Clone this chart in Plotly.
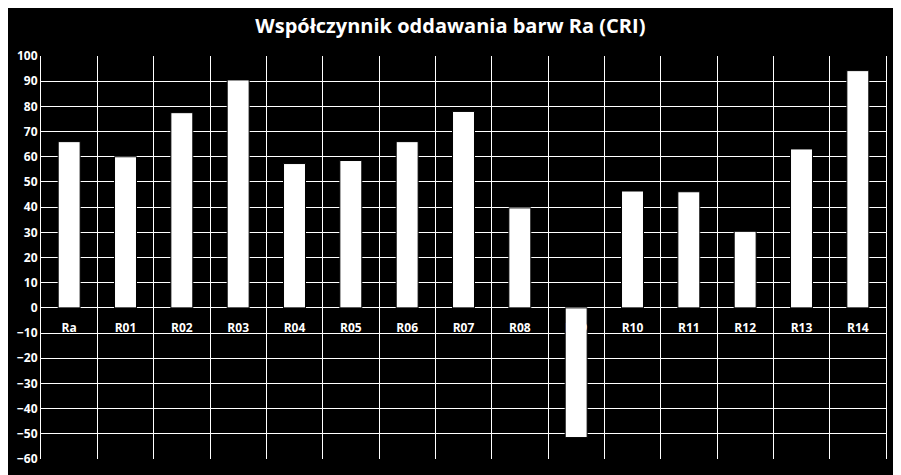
import plotly.graph_objects as go

kategorie = ['Ra', 'R01', 'R02', 'R03', 'R04', 'R05', 'R06', 'R07',
             'R08', 'R09', 'R10', 'R11', 'R12', 'R13', 'R14']
wartosci = [66, 60, 77.5, 90.5, 57.3, 58.5, 66, 78,
            39.7, -51.5, 46.4, 46.1, 30.4, 63.1, 94.2]
y_ticks = list(range(-60, 101, 10))

fig = go.Figure()
fig.add_trace(go.Bar(x=kategorie, y=wartosci, width=0.39,
                     marker=dict(color='white', line=dict(color='black', width=1))))

# strona ma margines ~8px, wiec wykres przesuniety w gore/lewo
fig.update_layout(
    width=901, height=475,
    paper_bgcolor='black', plot_bgcolor='black',
    margin=dict(l=33, r=23, t=48, b=24, autoexpand=False),
    title={'text': '<b>Współczynnik oddawania barw Ra (CRI)</b>', 'x': 0.491, 'y': 0.962,
           'xanchor': 'center', 'yanchor': 'middle',
           'font': {'family': 'Open Sans', 'size': 20, 'color': 'white'}},
    showlegend=False,
)
fig.update_yaxes(range=[-60, 100], tickvals=y_ticks, showgrid=True, gridcolor='white', gridwidth=1,
                 zeroline=True, zerolinecolor='white', zerolinewidth=1,
                 showline=True, linecolor='white', mirror=True, automargin=False,
                 ticks='', ticklabelstandoff=0,
                 tickfont=dict(family='Open Sans', size=12, color='white', weight='bold'))
fig.update_xaxes(anchor='free', position=60/160, showgrid=True, gridcolor='white', gridwidth=1,
                 tickson='boundaries', ticks='', showline=False, ticklabelstandoff=11,
                 automargin=False,
                 tickfont=dict(family='Open Sans', size=12, color='white', weight='bold'))

fig.write_html('out.html')
